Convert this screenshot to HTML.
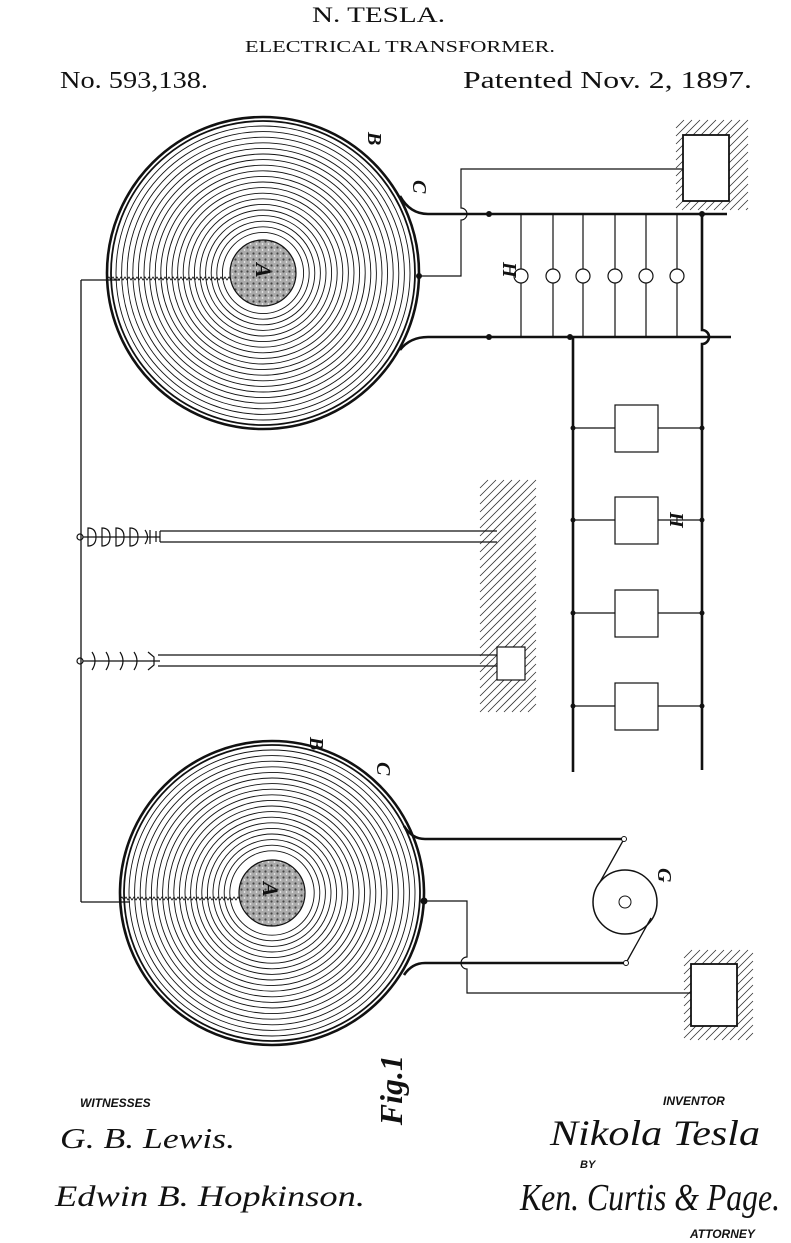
<!DOCTYPE html>
<html><head><meta charset="utf-8">
<style>
html,body{margin:0;padding:0;background:#fff;}
svg{display:block;}
.hd{font-family:"Liberation Serif",serif;fill:#111;font-weight:normal;}
.lbl{font-family:"Liberation Serif",serif;font-style:italic;font-weight:bold;fill:#111;}
.cap{font-family:"Liberation Sans",sans-serif;font-style:italic;font-weight:bold;fill:#111;}
.sig{font-family:"Liberation Serif",serif;font-style:italic;fill:#111;}
</style></head>
<body>
<svg id="fig" width="791" height="1243" viewBox="0 0 791 1243" xmlns="http://www.w3.org/2000/svg">
<defs>
<pattern id="speck" width="6" height="6" patternUnits="userSpaceOnUse">
<rect width="6" height="6" fill="#aaa"/><circle cx="1.5" cy="1.5" r="1.1" fill="#444"/><circle cx="4.5" cy="4" r="0.9" fill="#eee"/>
</pattern>
</defs>
<text class="hd" x="312" y="22" font-size="22" textLength="133" lengthAdjust="spacingAndGlyphs">N. TESLA.</text>
<text class="hd" x="245" y="52" font-size="17" textLength="310" lengthAdjust="spacingAndGlyphs">ELECTRICAL TRANSFORMER.</text>
<text class="hd" x="60" y="88" font-size="24" textLength="148" lengthAdjust="spacingAndGlyphs">No. 593,138.</text>
<text class="hd" x="463" y="88" font-size="24" textLength="289" lengthAdjust="spacingAndGlyphs">Patented Nov. 2, 1897.</text>

<g id="coils" fill="none" stroke="#111"></g>
<g id="hatches" stroke="#333" stroke-width="0.8"></g>

<g fill="none" stroke="#111">
<path d="M400,196 Q410,214 428,214 L727,214" stroke-width="2.6"/>
<path d="M400,350 Q410,337 428,337 L731,337" stroke-width="2.6"/>
<path d="M419,276 L461,276 L461,220 a6,6 0 0 0 0,-12 L461,169 L683,169" stroke-width="1.2"/>
<g stroke-width="1.2">
<path d="M521,214V269 M521,283V337 M553,214V269 M553,283V337 M583,214V269 M583,283V337 M615,214V269 M615,283V337 M646,214V269 M646,283V337 M677,214V269 M677,283V337"/>
<circle cx="521" cy="276" r="7"/><circle cx="553" cy="276" r="7"/><circle cx="583" cy="276" r="7"/><circle cx="615" cy="276" r="7"/><circle cx="646" cy="276" r="7"/><circle cx="677" cy="276" r="7"/>
</g>
<path d="M702,214 L702,330 a7,7 0 0 1 0,14 L702,770" stroke-width="2.6"/>
<path d="M573,337 L573,772" stroke-width="2.6"/>
<g stroke-width="1.2">
<path d="M573,428H615 M658,428H702 M573,520H615 M658,520H702 M573,613H615 M658,613H702 M573,706H615 M658,706H702"/>
<rect x="615" y="405" width="43" height="47"/><rect x="615" y="497" width="43" height="47"/><rect x="615" y="590" width="43" height="47"/><rect x="615" y="683" width="43" height="47"/>
</g>
<rect x="683" y="135" width="46" height="66" stroke-width="1.8" fill="#fff"/>
<rect x="691" y="964" width="46" height="62" stroke-width="1.8" fill="#fff"/>
<path d="M81,280 L81,902" stroke-width="1.3"/>
<path d="M81,280 L120,280 M81,902 L130,902" stroke-width="1.2"/>
<g stroke-width="1.2">
<circle cx="80" cy="537" r="3"/>
<path d="M83,537 H160 M160,531 H497 M160,542 H497 M160,531 V542"/>
<path d="M88,528 q8,0 8,9 q0,9 -8,9 z M102,528 q8,0 8,9 q0,9 -8,9 z M116,528 q8,0 8,9 q0,9 -8,9 z M130,528 q8,0 8,9 q0,9 -8,9 z M145,530 q5,7 0,14 M150,530 V544 M156,531 V542"/>
</g>
<g stroke-width="1.2">
<circle cx="80" cy="661" r="3"/>
<path d="M83,661 H160 M158,655 H497 M158,666 H497"/>
<path d="M92,652 q6,9 0,18 M106,652 q6,9 0,18 M120,652 q6,9 0,18 M134,652 q6,9 0,18 M148,652 l6,5 l0,8 l-6,5"/>
<rect x="497" y="647" width="28" height="33" fill="#fff"/>
</g>
<path d="M404,826 Q412,839 425,839 L624,839" stroke-width="2.6"/>
<path d="M404,975 Q412,963 425,963 L626,963" stroke-width="2.6"/>
<path d="M424,901 L467,901 L467,957 a6,6 0 0 0 0,12 L467,993 L691,993" stroke-width="1.2"/>
<g>
<circle cx="625" cy="902" r="32" stroke-width="1.5"/>
<circle cx="625" cy="902" r="6" stroke-width="1"/>
<path d="M624,839 L600,882 M626,963 L651,918" stroke-width="1.3"/>
<circle cx="624" cy="839" r="2.5" fill="#fff"/><circle cx="626" cy="963" r="2.5" fill="#fff"/>
</g>
</g>
<g fill="#111">
<circle cx="489" cy="214" r="3"/><circle cx="489" cy="337" r="3"/><circle cx="702" cy="214" r="3"/><circle cx="570" cy="337" r="3"/>
<circle cx="419" cy="276" r="3"/><circle cx="424" cy="901" r="3.5"/>
<circle cx="573" cy="428" r="2.5"/><circle cx="573" cy="520" r="2.5"/><circle cx="573" cy="613" r="2.5"/><circle cx="573" cy="706" r="2.5"/>
<circle cx="702" cy="428" r="2.5"/><circle cx="702" cy="520" r="2.5"/><circle cx="702" cy="613" r="2.5"/><circle cx="702" cy="706" r="2.5"/>
</g>

<text class="lbl" font-size="20" transform="translate(368,132) rotate(90)">B</text>
<text class="lbl" font-size="20" transform="translate(413,180) rotate(90)">C</text>
<text class="lbl" font-size="20" transform="translate(503,262) rotate(90)">H</text>
<text class="lbl" font-size="20" transform="translate(670,512) rotate(90)">H</text>
<text class="lbl" font-size="20" transform="translate(310,737) rotate(90)">B</text>
<text class="lbl" font-size="20" transform="translate(377,762) rotate(90)">C</text>
<text class="lbl" font-size="20" transform="translate(658,868) rotate(90)">G</text>
<text class="lbl" font-size="22" transform="translate(256,263) rotate(90)">A</text>
<text class="lbl" font-size="22" transform="translate(263,882) rotate(90)">A</text>
<text class="lbl" font-size="32" transform="translate(402,1055) rotate(-90)" text-anchor="end">Fig.1</text>

<text class="cap" x="80" y="1107" font-size="12">WITNESSES</text>
<text class="sig" x="60" y="1148" font-size="28" textLength="175" lengthAdjust="spacingAndGlyphs">G. B. Lewis.</text>
<text class="sig" x="55" y="1206" font-size="30" textLength="310" lengthAdjust="spacingAndGlyphs">Edwin B. Hopkinson.</text>
<text class="cap" x="663" y="1105" font-size="12">INVENTOR</text>
<text class="sig" x="550" y="1145" font-size="36" textLength="210" lengthAdjust="spacingAndGlyphs">Nikola Tesla</text>
<text class="cap" x="580" y="1168" font-size="11">BY</text>
<text class="sig" x="520" y="1210" font-size="38" textLength="260" lengthAdjust="spacingAndGlyphs">Ken. Curtis &amp; Page.</text>
<text class="cap" x="690" y="1238" font-size="12">ATTORNEY</text>
</svg>
<script>
var NS="http://www.w3.org/2000/svg";
var coilsG=document.getElementById('coils');
var hatchG=document.getElementById('hatches');
function coil(cx,cy,R,name){
  var g=document.createElementNS(NS,'g');
  
  
  var o=document.createElementNS(NS,'circle');
  o.setAttribute('cx',cx);o.setAttribute('cy',cy);o.setAttribute('r',R);o.setAttribute('stroke-width','2.6');
  g.appendChild(o);
  var o2=document.createElementNS(NS,'circle');
  o2.setAttribute('cx',cx);o2.setAttribute('cy',cy);o2.setAttribute('r',R-4);o2.setAttribute('stroke-width','1.8');
  g.appendChild(o2);
  for(var r=R-9;r>38;r-=5.6){
    var c=document.createElementNS(NS,'circle');
    c.setAttribute('cx',cx);c.setAttribute('cy',cy);c.setAttribute('r',r);c.setAttribute('stroke-width','0.9');
    g.appendChild(c);
  }
  var core=document.createElementNS(NS,'circle');
  core.setAttribute('cx',cx);core.setAttribute('cy',cy);core.setAttribute('r',33);
  core.setAttribute('fill','url(#speck)');core.setAttribute('stroke-width','1.2');
  
  
  g.appendChild(core);
  var d='M'+(cx-R)+','+(cy+6);
  for(var x=cx-R;x<cx-34;x+=4){d+=' L'+(x+2)+','+(cy+4)+' L'+(x+4)+','+(cy+7);}
  var w=document.createElementNS(NS,'path');
  w.setAttribute('d',d);w.setAttribute('stroke-width','0.8');
  g.appendChild(w);
  coilsG.appendChild(g);
}
coil(263,273,156,'top-coil');
coil(272,893,152,'bottom-coil');
function hatch(x,y,w,h,name){
  var d='';
  for(var i=-h;i<w;i+=8){
    var x1=x+i,y1=y+h,x2=x+i+h,y2=y;
    if(x1<x){y1=y+h-(x-x1);x1=x;}
    if(x2>x+w){y2=y+(x2-(x+w));x2=x+w;}
    if(y1>y2) d+='M'+x1+','+y1+'L'+x2+','+y2;
  }
  var p=document.createElementNS(NS,'path');
  p.setAttribute('d',d);
  
  
  hatchG.appendChild(p);
}
hatch(676,120,72,90,'earth-hatch-top');
hatch(684,950,69,90,'earth-hatch-bottom');
hatch(480,480,56,232,'earth-hatch-mid');
</script>
</body></html>
